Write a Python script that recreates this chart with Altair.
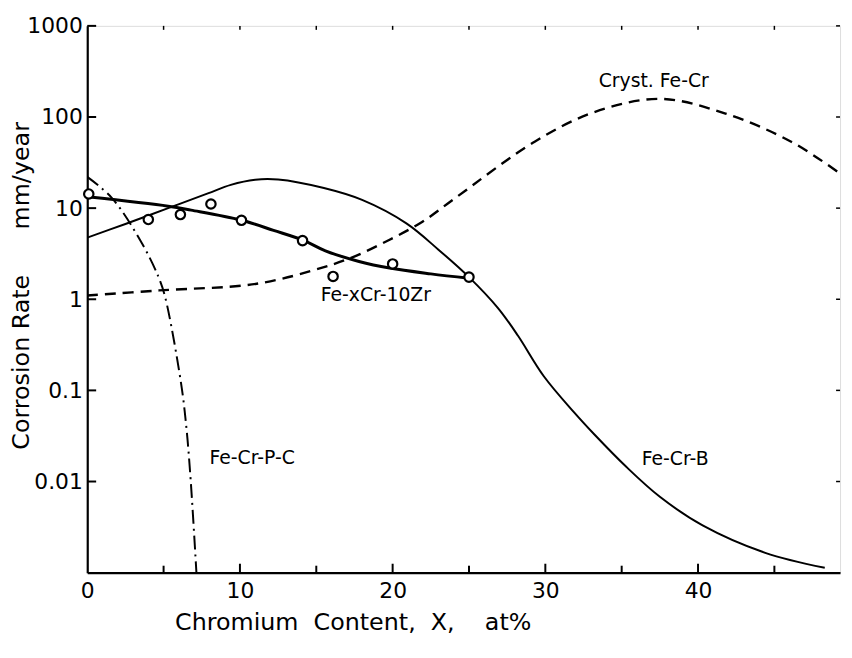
import altair as alt
import pandas as pd

# Fe-Cr-B (thin solid)
crb_x = [0, 2.5, 5.3, 7.9, 9.4, 11.0, 12.5, 15.5, 18.0, 20.9, 23.0, 25.0, 26.9, 28.2, 29.9, 31.9, 33.2, 35.3, 37.5, 40.3, 44.4, 48.3]
crb_y = [4.75, 6.7, 10.0, 14.5, 18.0, 20.5, 20.6, 16.6, 12.3, 6.8, 3.5, 1.75, 0.80, 0.40, 0.143, 0.057, 0.033, 0.0145, 0.0068, 0.0033, 0.00165, 0.00113]

# Cryst. Fe-Cr (dashed)
cry_x = [0, 4.7, 11.1, 15.5, 17.6, 19.8, 21.9, 24.1, 29.3, 33.2, 37.5, 41.8, 46.1, 49.3]
cry_y = [1.1, 1.25, 1.48, 2.25, 3.0, 4.5, 7.0, 12.9, 53.6, 113, 158, 109, 53.6, 24]

# Fe-Cr-P-C (dash-dot)
pc_x = [0, 1.62, 3.6, 4.67, 5.1, 6.14, 6.5, 6.78, 7.15]
pc_y = [22.0, 12.9, 4.06, 1.75, 1.06, 0.121, 0.038, 0.01, 0.001]

# Fe-xCr-10Zr (thick solid + circles)
zr_x = [0, 5.3, 6.8, 10.05, 12.2, 14.2, 15.6, 17.8, 19.8, 22.5, 25.0]
zr_y = [13.3, 10.5, 9.5, 7.4, 5.7, 4.4, 3.4, 2.6, 2.2, 1.9, 1.7]
pts_x = [0.1, 4.0, 6.1, 8.1, 10.1, 14.1, 16.1, 20.0, 25.0]
pts_y = [14.3, 7.5, 8.5, 11.1, 7.35, 4.4, 1.78, 2.44, 1.75]

# annotations
lab_text = ["Cryst.\u00a0Fe-Cr", "Fe-xCr-10Zr", "Fe-Cr-P-C", "Fe-Cr-B"]
lab_x = [37.1, 18.9, 10.8, 38.5]
lab_y = [246, 1.1, 0.018, 0.0178]

y_ticks = [0.01, 0.1, 1, 10, 100, 1000]
x_major = [10, 20, 30, 40]
x_minor = [5, 15, 25, 35, 45]

W, H = 760, 552
FONT = "DejaVu Sans"
NB = "\u00a0"

xscale = alt.Scale(domain=[0, 49.3], nice=False, zero=False)
yscale = alt.Scale(type="log", domain=[0.001, 1000], nice=False)

xaxis = alt.Axis(values=[0, 10, 20, 30, 40], format="d", ticks=False, tickSize=0, grid=False,
                 labelFlush=False, labelOverlap=False,
                 title=f"Chromium{NB*2}Content,{NB*2}X,{NB*4}at%", labelPadding=8,
                 domainColor="black", domainWidth=2.2,
                 labelFont=FONT, labelFontSize=22, labelColor="black",
                 titleFont=FONT, titleFontSize=24, titleFontWeight="normal", titleColor="black",
                 titleX=268, titleY=50, titleBaseline="middle", titleAlign="center")
yaxis = alt.Axis(values=y_ticks, format="~g", ticks=False, tickSize=0, grid=False,
                 labelFlush=False, labelOverlap=False,
                 title=f"Corrosion{NB}Rate{NB*6}mm/year", labelPadding=5,
                 domainColor="black", domainWidth=2.2,
                 labelFont=FONT, labelFontSize=22, labelColor="black",
                 titleFont=FONT, titleFontSize=24, titleFontWeight="normal", titleColor="black",
                 titleX=-66, titleY=262, titleBaseline="middle", titleAlign="center")

X = alt.X("x:Q", scale=xscale, axis=xaxis)
Y = alt.Y("y:Q", scale=yscale, axis=yaxis)


def line(xs, ys, width, dash=None, interp="catmull-rom"):
    df = pd.DataFrame({"x": xs, "y": ys, "o": range(len(xs))})
    kw = dict(color="black", strokeWidth=width, interpolate=interp, clip=True)
    if dash:
        kw["strokeDash"] = dash
    return alt.Chart(df).mark_line(**kw).encode(x=X, y=Y, order="o:Q")


l_crb = line(crb_x, crb_y, 2.0)
l_cry = line(cry_x, cry_y, 2.4, [11, 7])
l_pc = line(pc_x, pc_y, 2.0, [14, 5, 2, 5])
l_zr = line(zr_x, zr_y, 3.0)

pts = alt.Chart(pd.DataFrame({"x": pts_x, "y": pts_y})).mark_point(
    shape="circle", filled=False, fill="white", fillOpacity=1, color="black",
    strokeWidth=2.2, size=90, opacity=1).encode(x=X, y=Y)

labels = alt.Chart(pd.DataFrame({"x": lab_x, "y": lab_y, "t": lab_text})).mark_text(
    font=FONT, fontSize=19, color="black", align="center", baseline="middle").encode(
    x=X, y=Y, text="t:N")

ytick_df = pd.DataFrame({"y": y_ticks})
yt = alt.Chart(ytick_df).mark_rule(color="black", strokeWidth=2).encode(
    y=Y, x=alt.value(0), x2=alt.value(9))
yt_r = alt.Chart(ytick_df).mark_rule(color="black", strokeWidth=1.5).encode(
    y=Y, x=alt.value(W - 4), x2=alt.value(W))

xt_major = alt.Chart(pd.DataFrame({"x": x_major})).mark_rule(color="black", strokeWidth=2).encode(
    x=X, y=alt.value(H), y2=alt.value(H - 9))
xt_minor = alt.Chart(pd.DataFrame({"x": x_minor})).mark_rule(color="black", strokeWidth=2).encode(
    x=X, y=alt.value(H), y2=alt.value(H - 7))
xt_top = alt.Chart(pd.DataFrame({"x": x_minor + x_major})).mark_rule(color="black", strokeWidth=1.5).encode(
    x=X, y=alt.value(0), y2=alt.value(4))

chart = alt.layer(
    l_crb, l_cry, l_pc, l_zr, pts, labels, yt, yt_r, xt_major, xt_minor, xt_top
).properties(
    width=W, height=H,
    autosize=alt.AutoSizeParams(type="none"),
    padding={"left": 80, "top": 15, "right": 4, "bottom": 70},
).configure_view(stroke=None).configure(background="white")

chart.save("out.html", embed_options={"renderer": "svg", "actions": False})
